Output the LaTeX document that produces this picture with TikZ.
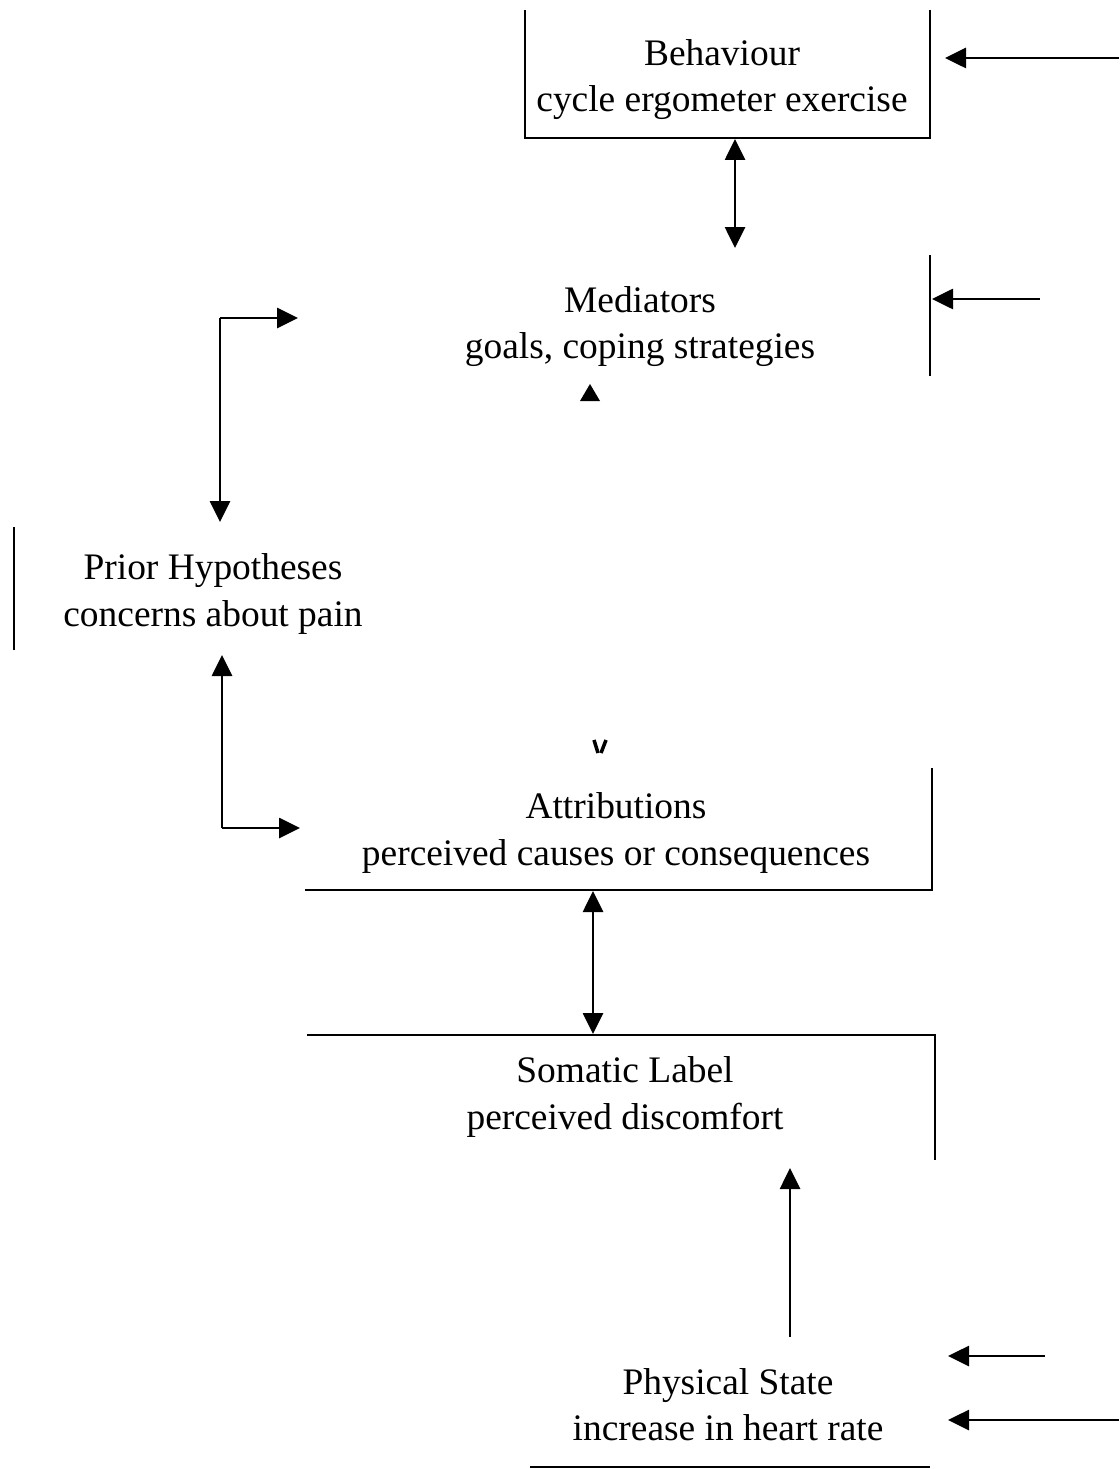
\documentclass[tikz,border=0pt]{standalone}
\usepackage{fontspec}
\setmainfont{Liberation Serif}
\usetikzlibrary{arrows.meta}
\begin{document}
\begin{tikzpicture}[x=0.02cm,y=-0.02cm,line width=0.055cm,
  lbl/.style={align=center,inner sep=0pt,font=\fontsize{21.3pt}{26.2pt}\selectfont},
  arr/.style={-{Triangle[length=0.42cm,width=0.4cm]}},
  darr/.style={{Triangle[length=0.42cm,width=0.4cm]}-{Triangle[length=0.42cm,width=0.4cm]}},
  frag/.style={line width=0.055cm}]
\useasboundingbox[fill=white] (0,0) rectangle (1119,1469);

% text nodes
\node[lbl] (beh) at (722,80) {Behaviour\\cycle ergometer exercise};
\node[lbl] (med) at (640,327) {Mediators\\goals, coping strategies};
\node[lbl] (pri) at (213,594) {Prior Hypotheses\\concerns about pain};
\node[lbl] (att) at (616,833) {Attributions\\perceived causes or consequences};
\node[lbl] (som) at (625,1097) {Somatic Label\\perceived discomfort};
\node[lbl] (phy) at (728,1405) {Physical State\\increase in heart rate};

% partial box frames
\draw[frag] (525,10) |- (930,138) -- (930,10);
\draw[frag] (930,255) -- (930,376);
\draw[frag] (14,527) -- (14,650);
\draw[frag] (305,890) -- (932,890) -- (932,768);
\draw[frag] (307,1035) -- (935,1035) -- (935,1160);
\draw[frag] (530,1467) -- (930,1467);

% connector end points
\coordinate (behIn) at (1119,58);
\coordinate (behInT) at (945,58);
\coordinate (behBot) at (735,139);
\coordinate (medTop) at (735,248);
\coordinate (medIn) at (1040,299);
\coordinate (medInT) at (932,299);
\coordinate (medL) at (298,318);
\coordinate (cornU) at (220,318);
\coordinate (priTop) at (220,522);
\coordinate (priBot) at (222,655);
\coordinate (cornL) at (222,828);
\coordinate (attL) at (300,828);
\coordinate (attBot) at (593,891);
\coordinate (somTop) at (593,1034);
\coordinate (phyUp) at (790,1337);
\coordinate (somIn) at (790,1168);
\coordinate (phyInA) at (1045,1356);
\coordinate (phyInAT) at (948,1356);
\coordinate (phyInB) at (1119,1420);
\coordinate (phyInBT) at (948,1420);

% connectors
\draw[arr] (behIn) -- (behInT);
\draw[darr] (behBot) -- (medTop);
\draw[arr] (medIn) -- (medInT);
\draw[arr] (cornU) -- (medL);
\draw[arr] (cornU) -- (priTop);
\draw[arr] (cornL) -- (priBot);
\draw[arr] (cornL) -- (attL);
\draw[darr] (attBot) -- (somTop);
\draw[arr] (phyUp) -- (somIn);
\draw[arr] (phyInA) -- (phyInAT);
\draw[arr] (phyInB) -- (phyInBT);

% stray arrowheads between Mediators and Attributions
\fill (590,384) -- (600,401) -- (580,401) -- cycle;
\draw[line width=0.07cm] (594,740) -- (598,753);
\draw[line width=0.07cm] (606,740) -- (601,753);
\end{tikzpicture}
\end{document}
